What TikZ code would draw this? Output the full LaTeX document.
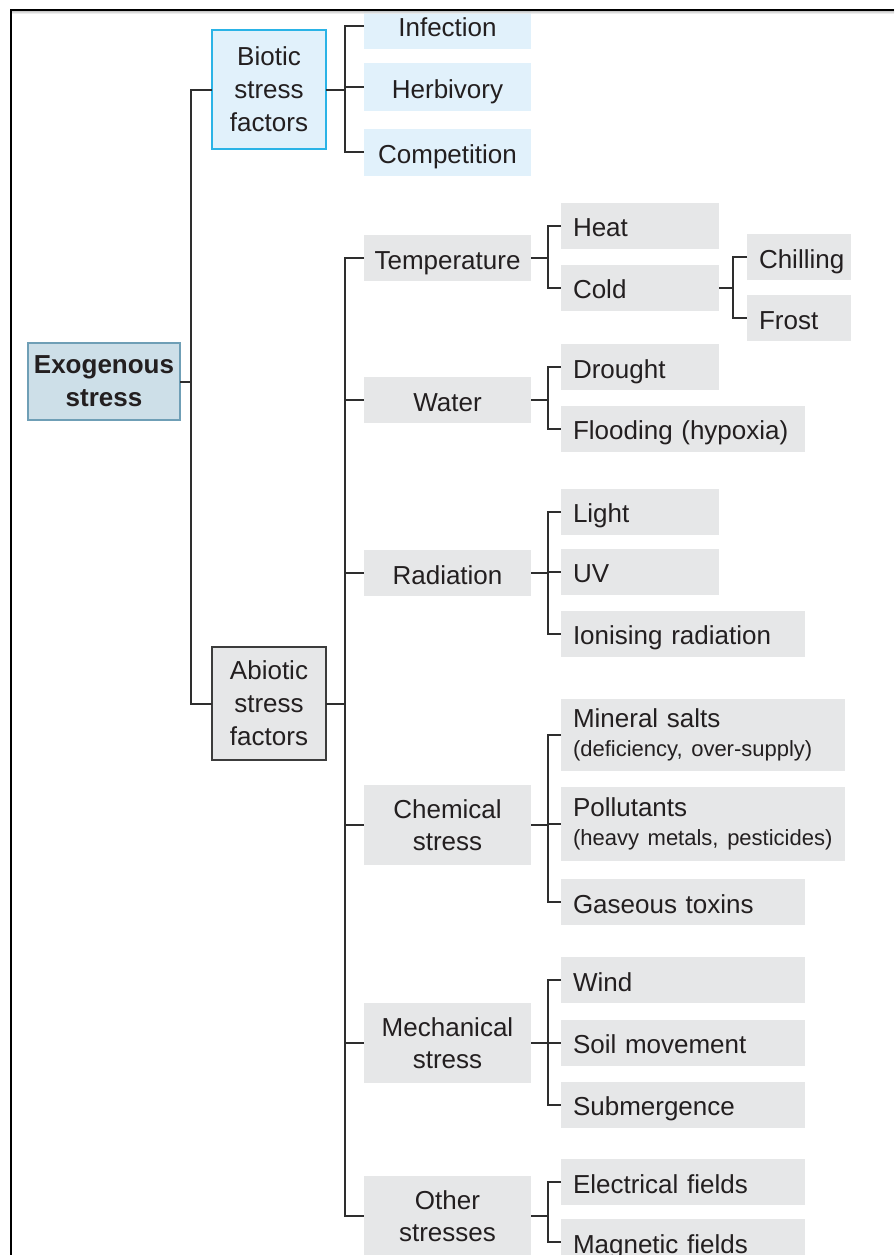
\documentclass[tikz,border=0pt]{standalone}
\usepackage{fontspec}
\setmainfont{Liberation Sans}
\definecolor{txt}{HTML}{231F20}
\definecolor{lin}{HTML}{2E2E2E}
\definecolor{boxgray}{HTML}{E6E7E8}
\definecolor{lightblue}{HTML}{E1F1FB}
\definecolor{cyanb}{HTML}{2AB3E6}
\definecolor{exofill}{HTML}{CDDFE8}
\definecolor{exoline}{HTML}{6F9FB6}
\definecolor{abline}{HTML}{3C3C3C}
\begin{document}
\begin{tikzpicture}[x=1pt,y=-1pt,
  every node/.style={inner sep=0pt, outer sep=0pt, text=txt},
  conn/.style={draw=lin, line width=2pt},
  gbox/.style={fill=boxgray, font=\fontsize{26}{32}\selectfont},
  one/.style={text height=22pt, text depth=0pt},
  mid/.style={gbox, minimum width=167pt, minimum height=46pt, align=center},
  leaf/.style={gbox, anchor=west, minimum height=46pt, inner xsep=12pt, text width=#1, align=left, one},
  leaftwo/.style={gbox, anchor=west, inner xsep=12pt, text width=#1, align=left},
  bio/.style={mid, fill=lightblue, minimum height=47pt, one},
]
\useasboundingbox (0,0) rectangle (894,1255);
\clip (0,0) rectangle (894,1255);

% root
\node[draw=exoline, fill=exofill, line width=1.3pt, minimum width=152pt, minimum height=77pt,
      align=center, font=\bfseries\fontsize{26}{33}\selectfont] (exo) at (104,381.5) {Exogenous\\stress};
\node[draw=cyanb, fill=lightblue, line width=1.5pt, minimum width=114pt, minimum height=119pt,
      align=center, font=\fontsize{26}{33}\selectfont] (biotic) at (269,89.5) {Biotic\\stress\\factors};
\node[draw=abline, fill=boxgray, line width=2.4pt, minimum width=114pt, minimum height=113pt,
      align=center, font=\fontsize{26}{33}\selectfont] (abiotic) at (269,703.5) {Abiotic\\stress\\factors};

% biotic children
\node[bio] (infect) at (447.5,26) {Infection};
\node[bio] (herb) at (447.5,87) {Herbivory};
\node[bio] (comp) at (447.5,152) {Competition};

% abiotic level 2
\node[mid, one] (temp) at (447.5,258) {Temperature};
\node[mid, one] (water) at (447.5,400) {Water};
\node[mid, one] (rad) at (447.5,573) {Radiation};
\node[mid, minimum height=80pt] (chem) at (447.5,825) {Chemical\\stress};
\node[mid, minimum height=80pt] (mech) at (447.5,1043) {Mechanical\\stress};
\node[mid, minimum height=80pt] (other) at (447.5,1216) {Other\\stresses};

% leaves
\node[leaf=134pt] (heat) at (561,225.5) {Heat};
\node[leaf=134pt] (cold) at (561,287.5) {Cold};
\node[leaf=80pt] (chill) at (747,257) {Chilling};
\node[leaf=80pt] (frost) at (747,318) {Frost};
\node[leaf=134pt] (drought) at (561,367) {Drought};
\node[leaf=220pt] (flood) at (561,428.5) {Flooding (hypoxia)};
\node[leaf=134pt] (light) at (561,511.5) {Light};
\node[leaf=134pt] (uv) at (561,571.5) {UV};
\node[leaf=220pt] (ion) at (561,633.5) {Ionising radiation};
\node[leaftwo=260pt, minimum height=72pt] (mineral) at (561,735)
  {Mineral salts\\[-3pt]{\fontsize{22}{27}\selectfont(deficiency, over-supply)}};
\node[leaftwo=260pt, minimum height=74pt] (pollut) at (561,824)
  {Pollutants\\[-3pt]{\fontsize{22}{27}\selectfont(heavy metals, pesticides)}};
\node[leaf=220pt] (gas) at (561,902) {Gaseous toxins};
\node[leaf=220pt] (wind) at (561,980) {Wind};
\node[leaf=220pt] (soil) at (561,1042.5) {Soil movement};
\node[leaf=220pt] (subm) at (561,1104.5) {Submergence};
\node[leaf=220pt] (elec) at (561,1182) {Electrical fields};
\node[leaf=220pt] (magn) at (561,1242) {Magnetic fields};

% connectors
\draw[conn] (exo.east) -- ++(11,0) coordinate (j0);
\draw[conn] (biotic.west) -| (j0) |- (abiotic.west);

\draw[conn] (biotic.east) -- ++(19,0) coordinate (j1);
\draw[conn] (infect.west) -| (j1) |- (comp.west);
\draw[conn] (j1 |- herb.west) -- (herb.west);

\draw[conn] (abiotic.east) -- ++(19,0) coordinate (j2);
\draw[conn] (temp.west) -| (j2) |- (other.west);
\draw[conn] (j2 |- water.west) -- (water.west);
\draw[conn] (j2 |- rad.west) -- (rad.west);
\draw[conn] (j2 |- chem.west) -- (chem.west);
\draw[conn] (j2 |- mech.west) -- (mech.west);

\draw[conn] (temp.east) -- ++(17,0) coordinate (jt);
\draw[conn] (heat.west) -| (jt) |- (cold.west);
\draw[conn] (cold.east) -- ++(14,0) coordinate (jc);
\draw[conn] (chill.west) -| (jc) |- (frost.west);

\draw[conn] (water.east) -- ++(17,0) coordinate (jw);
\draw[conn] (drought.west) -| (jw) |- (flood.west);

\draw[conn] (rad.east) -- ++(17,0) coordinate (jr);
\draw[conn] (light.west) -| (jr) |- (ion.west);
\draw[conn] (jr |- uv.west) -- (uv.west);

\draw[conn] (chem.east) -- ++(17,0) coordinate (jch);
\draw[conn] (mineral.west) -| (jch) |- (gas.west);
\draw[conn] (jch |- pollut.west) -- (pollut.west);

\draw[conn] (mech.east) -- ++(17,0) coordinate (jm);
\draw[conn] (wind.west) -| (jm) |- (subm.west);
\draw[conn] (jm |- soil.west) -- (soil.west);

\draw[conn] (other.east) -- ++(17,0) coordinate (jo);
\draw[conn] (elec.west) -| (jo) |- (magn.west);

% frame
\fill[white] (0,0) rectangle (894,10);
\shade[top color=black!35, bottom color=white, opacity=0.8] (11,10) rectangle (894,14);
\draw[line width=2pt, black] (11,1255) -- (11,10) -- (894,10);
\end{tikzpicture}
\end{document}
